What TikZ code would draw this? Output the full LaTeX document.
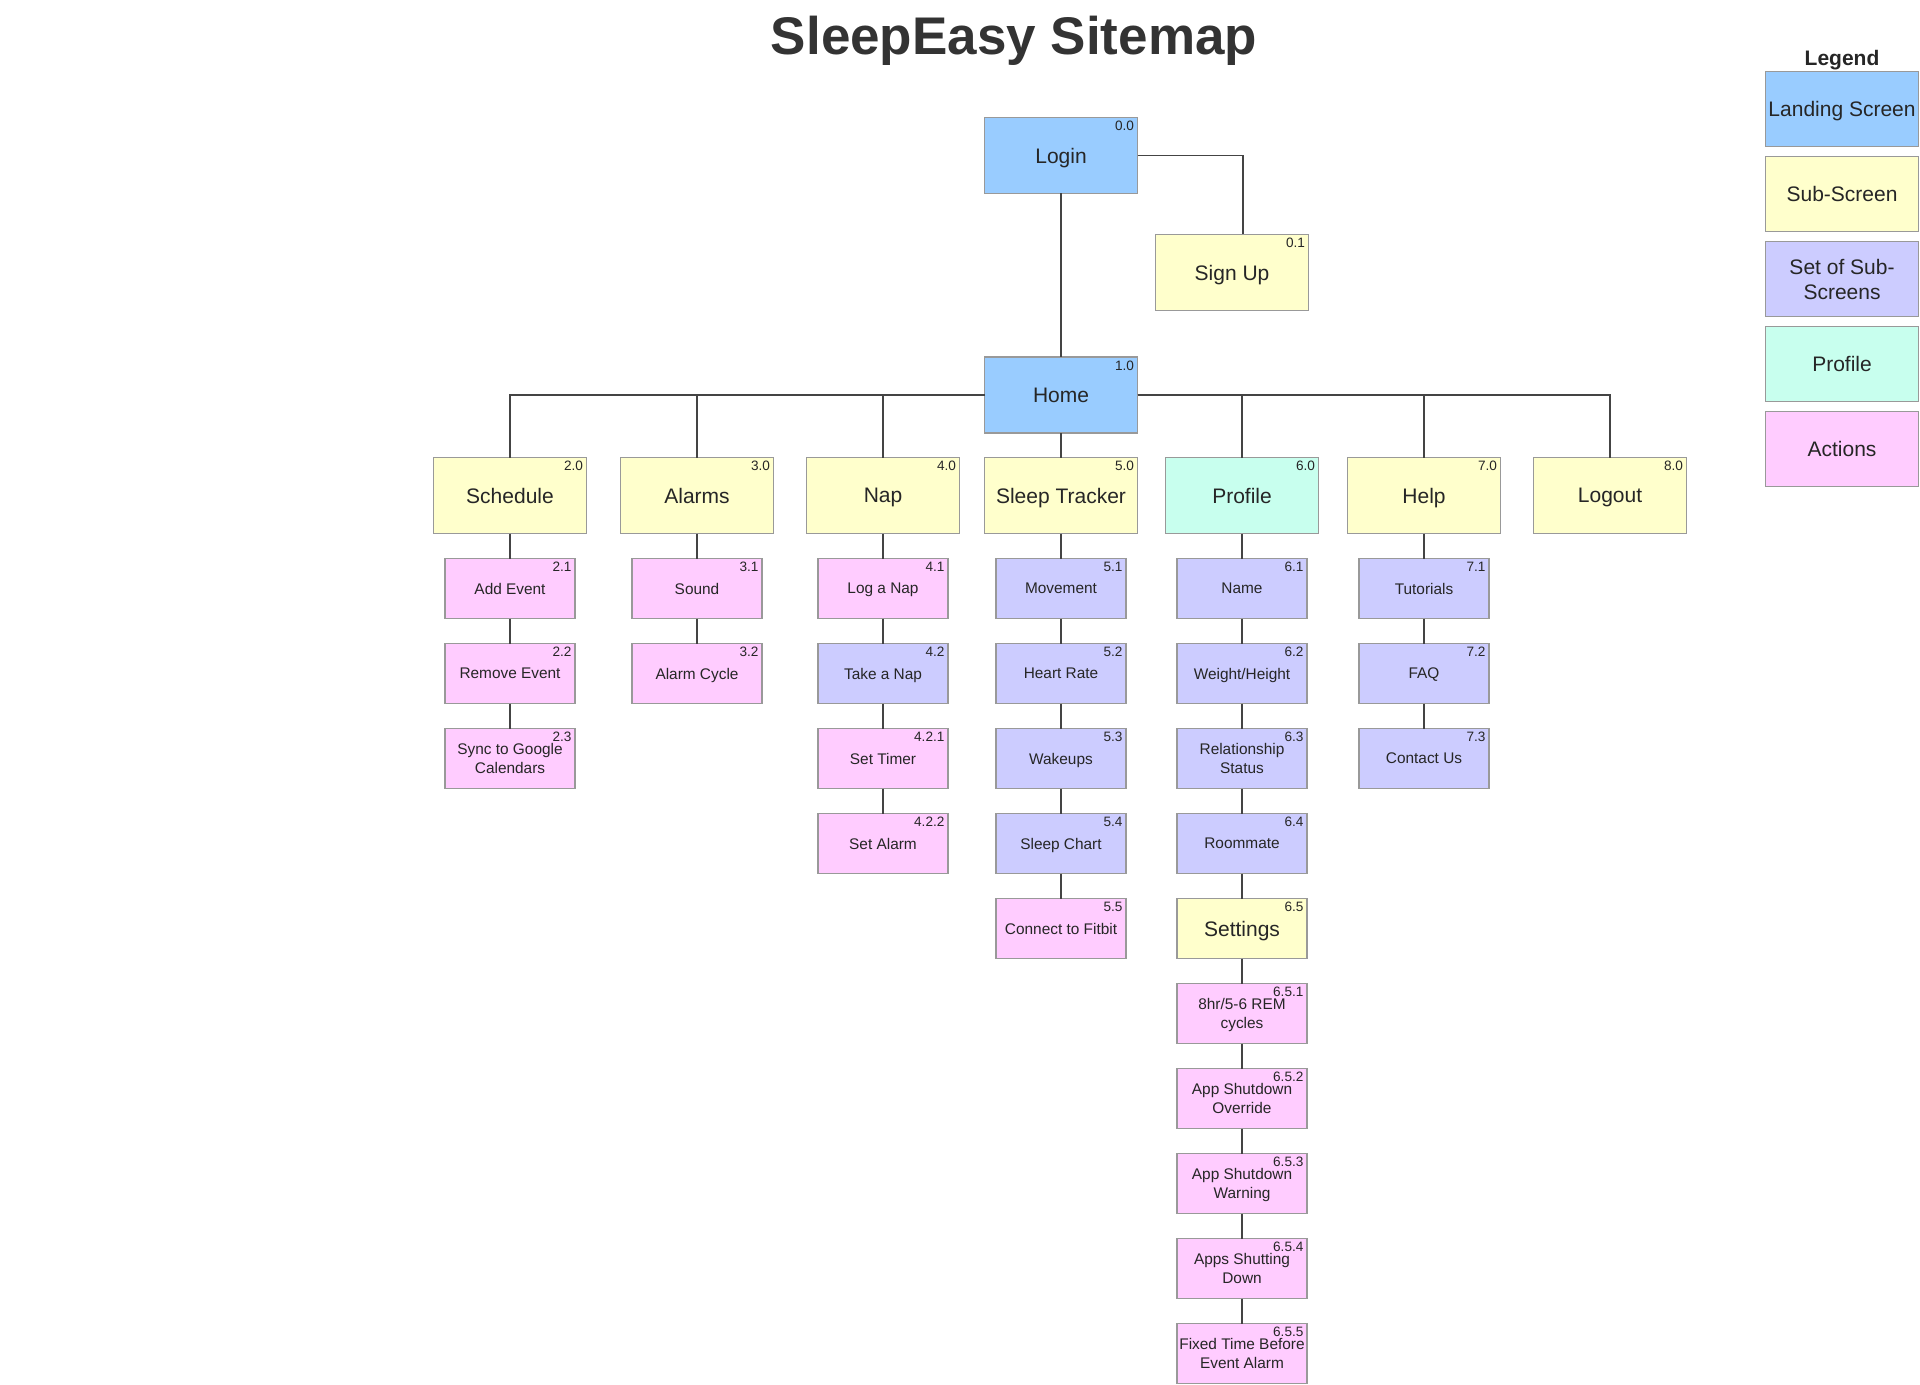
\documentclass[tikz,border=0pt]{standalone}
\usepackage{fontspec}
\setmainfont{Liberation Sans}
\usepackage{xcolor}
\usepackage{tikz}
\usetikzlibrary{positioning,calc}

\definecolor{landingc}{HTML}{99CCFF}
\definecolor{subc}{HTML}{FFFFCC}
\definecolor{setc}{HTML}{CCCCFF}
\definecolor{profc}{HTML}{C8FFEE}
\definecolor{actc}{HTML}{FFCCFF}
\definecolor{edgec}{HTML}{999999}
\definecolor{linkc}{HTML}{444444}
\definecolor{titlec}{HTML}{333333}

\begin{document}
\begin{tikzpicture}[x=0.5pt, y=-0.5pt, node distance=12.5pt,
    screen/.style={rectangle, draw=edgec, line width=0.7pt, outer sep=0pt, minimum width=76.5pt, minimum height=38pt, inner sep=1pt, align=center, text depth=0pt, font=\fontsize{10.5}{12.5}\selectfont, text=black!85},
    item/.style={rectangle, draw=edgec, line width=0.7pt, outer sep=0pt, minimum width=65pt, minimum height=30pt, inner sep=1pt, align=center, text depth=0pt, font=\fontsize{7.7}{9.2}\selectfont, text=black!85},
    num/.style={anchor=north east, inner sep=1.6pt, text depth=, font=\fontsize{6.8}{7}\selectfont, text=black!85},
    landing/.style={fill=landingc}, sub/.style={fill=subc}, subset/.style={fill=setc},
    prof/.style={fill=profc}, act/.style={fill=actc},
    link/.style={draw=linkc, line width=0.6pt}]

    \useasboundingbox (0,0) rectangle (1920,1385);

    % Title
    \node[font=\fontsize{26.5}{30}\selectfont\bfseries, text=titlec, anchor=base] (title) at (1014,55) {SleepEasy Sitemap};

    % Top
    \node[screen, landing, label={[num]north east:0.0}] (login) at (1061,155.5) {Login};
    \node[screen, sub, label={[num]north east:0.1}] (signup) at (1232,272.5) {Sign Up};
    \node[screen, landing, label={[num]north east:1.0}] (home) at (1061,395) {Home};

    % Main sections
    \node[screen, sub, label={[num]north east:2.0}] (sched) at (510,495.5) {Schedule};
    \node[screen, sub, label={[num]north east:3.0}] (alarms) at (697,495.5) {Alarms};
    \node[screen, sub, label={[num]north east:4.0}] (nap) at (883,495.5) {Nap};
    \node[screen, sub, label={[num]north east:5.0}] (sleep) at (1061,495.5) {Sleep Tracker};
    \node[screen, prof, label={[num]north east:6.0}] (profile) at (1242,495.5) {Profile};
    \node[screen, sub, label={[num]north east:7.0}] (help) at (1424,495.5) {Help};
    \node[screen, sub, label={[num]north east:8.0}] (logout) at (1610,495.5) {Logout};

    % Schedule
    \node[item, act, below=of sched, label={[num]north east:2.1}] (addev) {Add Event};
    \node[item, act, below=of addev, label={[num]north east:2.2}] (remev) {Remove Event};
    \node[item, act, below=of remev, label={[num]north east:2.3}] (sync) {Sync to Google\\Calendars};

    % Alarms
    \node[item, act, below=of alarms, label={[num]north east:3.1}] (sound) {Sound};
    \node[item, act, below=of sound, label={[num]north east:3.2}] (cycle) {Alarm Cycle};

    % Nap
    \node[item, act, below=of nap, label={[num]north east:4.1}] (lognap) {Log a Nap};
    \node[item, subset, below=of lognap, label={[num]north east:4.2}] (takenap) {Take a Nap};
    \node[item, act, below=of takenap, label={[num]north east:4.2.1}] (timer) {Set Timer};
    \node[item, act, below=of timer, label={[num]north east:4.2.2}] (setalarm) {Set Alarm};

    % Sleep Tracker
    \node[item, subset, below=of sleep, label={[num]north east:5.1}] (move) {Movement};
    \node[item, subset, below=of move, label={[num]north east:5.2}] (heart) {Heart Rate};
    \node[item, subset, below=of heart, label={[num]north east:5.3}] (wake) {Wakeups};
    \node[item, subset, below=of wake, label={[num]north east:5.4}] (chart) {Sleep Chart};
    \node[item, act, below=of chart, label={[num]north east:5.5}] (fitbit) {Connect to Fitbit};

    % Profile
    \node[item, subset, below=of profile, label={[num]north east:6.1}] (name) {Name};
    \node[item, subset, below=of name, label={[num]north east:6.2}] (weight) {Weight/Height};
    \node[item, subset, below=of weight, label={[num]north east:6.3}] (status) {Relationship\\Status};
    \node[item, subset, below=of status, label={[num]north east:6.4}] (roommate) {Roommate};
    \node[item, sub, below=of roommate, font=\fontsize{10.5}{12.5}\selectfont, label={[num]north east:6.5}] (settings) {Settings};
    \node[item, act, below=of settings, label={[num]north east:6.5.1}] (rem) {8hr/5-6 REM\\cycles};
    \node[item, act, below=of rem, label={[num]north east:6.5.2}] (override) {App Shutdown\\Override};
    \node[item, act, below=of override, label={[num]north east:6.5.3}] (warning) {App Shutdown\\Warning};
    \node[item, act, below=of warning, label={[num]north east:6.5.4}] (shutting) {Apps Shutting\\Down};
    \node[item, act, below=of shutting, label={[num]north east:6.5.5}] (fixed) {Fixed Time Before\\Event Alarm};

    % Help
    \node[item, subset, below=of help, label={[num]north east:7.1}] (tutor) {Tutorials};
    \node[item, subset, below=of tutor, label={[num]north east:7.2}] (faq) {FAQ};
    \node[item, subset, below=of faq, label={[num]north east:7.3}] (contact) {Contact Us};

    % Legend
    \node[font=\fontsize{10.5}{12}\selectfont\bfseries, text=black!85, text depth=0pt] (legend) at (1842,58) {Legend};
    \node[screen, landing, minimum height=37.5pt] (lglanding) at (1842,109) {Landing Screen};
    \node[screen, sub, minimum height=37.5pt, below=5pt of lglanding] (lgsub) {Sub-Screen};
    \node[screen, subset, minimum height=37.5pt, below=5pt of lgsub] (lgset) {Set of Sub-\\Screens};
    \node[screen, prof, minimum height=37.5pt, below=5pt of lgset] (lgprof) {Profile};
    \node[screen, act, minimum height=37.5pt, below=5pt of lgprof] (lgact) {Actions};

    % Connectors
    \draw[link] (login) -- (home);
    \draw[link] (login.east) -| ([xshift=5.5pt]signup.north);
    \draw[link] (home.west) -| (sched.north);
    \draw[link] (home.west) -| (alarms.north);
    \draw[link] (home.west) -| (nap.north);
    \draw[link] (home) -- (sleep);
    \draw[link] (home.east) -| (profile.north);
    \draw[link] (home.east) -| (help.north);
    \draw[link] (home.east) -| (logout.north);
    \foreach \a/\b in {sched/addev, addev/remev, remev/sync, alarms/sound, sound/cycle,
        nap/lognap, lognap/takenap, takenap/timer, timer/setalarm,
        sleep/move, move/heart, heart/wake, wake/chart, chart/fitbit,
        profile/name, name/weight, weight/status, status/roommate, roommate/settings,
        settings/rem, rem/override, override/warning, warning/shutting, shutting/fixed,
        help/tutor, tutor/faq, faq/contact}
        \draw[link] (\a) -- (\b);

\end{tikzpicture}
\end{document}
